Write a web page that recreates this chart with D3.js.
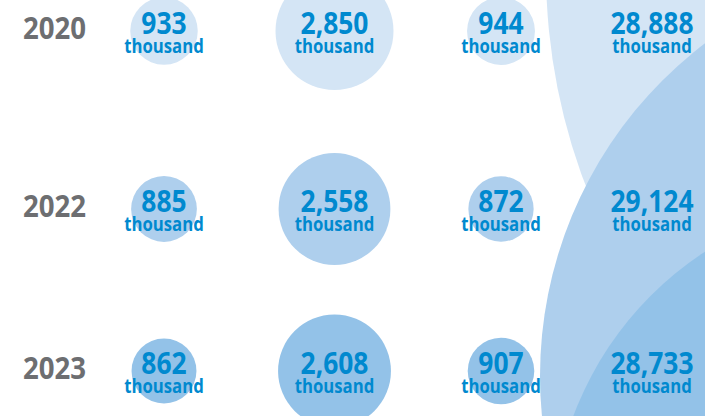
<!DOCTYPE html>
<html>
<head>
<meta charset="utf-8">
<script src="https://cdn.jsdelivr.net/npm/d3@7"></script>
<style>
    body { margin: 0; background: #fff; }
    svg { display: block; }
    text { font-family: "Open Sans", "Noto Sans", sans-serif; font-weight: 700; }
</style>
</head>
<body>
<svg id="chart" width="705" height="416"></svg>
<script>
// values, in thousands
const years = ["2020", "2022", "2023"];
const groupA = [933, 885, 862];
const groupB = [2850, 2558, 2608];
const groupC = [944, 872, 907];
const totals = [28888, 29124, 28733];
const unitLabel = "thousand";

const width = 705,
    height = 416;

const svg = d3.select("#chart");

const rowColor = ["#d4e5f5", "#aecfed", "#93c2e8"];
const textBlue = "#0089cf";
const yearGray = "#6d6e71";

const y = d3.scalePoint().domain(years).range([31, 371]);
// 2022 row sits a bit higher than halfway in the original
const rowY = d => d === "2022" ? 209 : y(d);

const columns = [
    { key: "A", values: groupA, x: 164 },
    { key: "B", values: groupB, x: 334.5 },
    { key: "C", values: groupC, x: 501 },
];

const r = d3.scaleSqrt().domain([0, d3.max(groupB)]).range([0, 59]);
const fmt = d3.format(",");

// decorative backdrop circles behind the totals column (not to scale)
const backdrop = [
    { cx: 1147, cy: -29, r: 601 },
    { cx: 958, cy: 376, r: 418 },
    { cx: 889, cy: 534, r: 337 },
];

svg.append("g")
    .attr("class", "backdrop")
    .selectAll("circle")
    .data(backdrop)
    .enter().append("circle")
    .attr("cx", d => d.cx)
    .attr("cy", d => d.cy)
    .attr("r", d => d.r)
    .attr("fill", (d, i) => rowColor[i]);

// bubbles
const cells = [];
columns.forEach(col => {
    col.values.forEach((v, i) => {
        cells.push({ year: years[i], row: i, value: v, x: col.x });
    });
});
totals.forEach((v, i) => {
    cells.push({ year: years[i], row: i, value: v, x: 652, total: true });
});

svg.append("g")
    .attr("class", "bubbles")
    .selectAll("circle")
    .data(cells.filter(d => !d.total))
    .enter().append("circle")
    .attr("cx", d => d.x)
    .attr("cy", d => rowY(d.year))
    .attr("r", d => r(d.value))
    .attr("fill", d => rowColor[d.row]);

const squeeze = 0.88;

const label = svg.append("g")
    .attr("class", "labels")
    .selectAll("g")
    .data(cells)
    .enter().append("g")
    .attr("transform", d => "translate(" + d.x + "," + rowY(d.year) + ") scale(" + squeeze + ",1)");

label.append("text")
    .attr("text-anchor", "middle")
    .attr("y", 2.5)
    .attr("font-size", 30)
    .attr("fill", textBlue)
    .text(d => fmt(d.value));

label.append("text")
    .attr("text-anchor", "middle")
    .attr("y", 22)
    .attr("font-size", 19)
    .attr("fill", textBlue)
    .text(unitLabel);

// year labels
svg.append("g")
    .attr("class", "years")
    .selectAll("text")
    .data(years)
    .enter().append("text")
    .attr("transform", d => "translate(54.5," + (rowY(d) + 8) + ") scale(0.92,1)")
    .attr("text-anchor", "middle")
    .attr("font-size", 30)
    .attr("fill", yearGray)
    .text(d => d);
</script>
</body>
</html>
